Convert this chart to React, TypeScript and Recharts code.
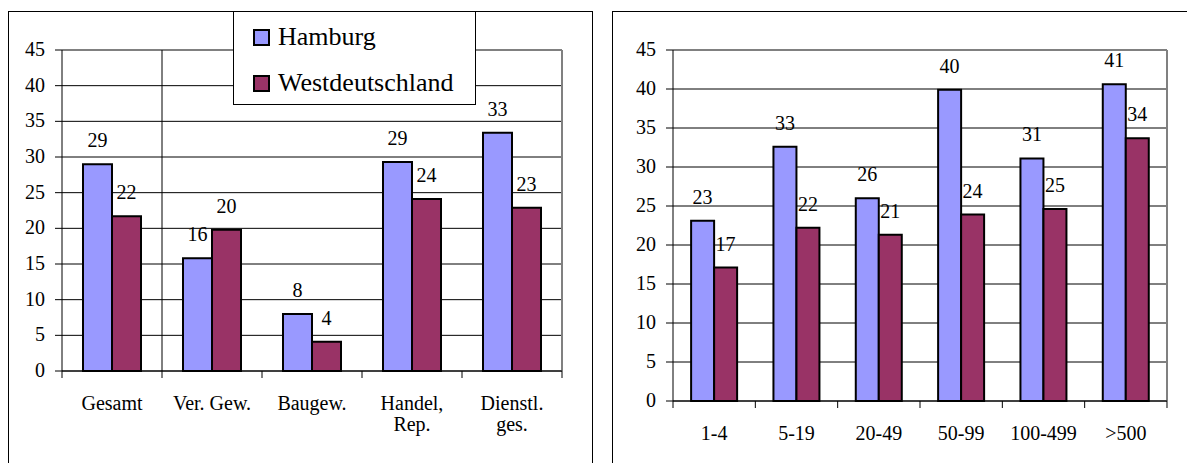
import {
  BarChart,
  Bar,
  XAxis,
  YAxis,
  CartesianGrid,
  Legend,
  LabelList,
  ReferenceLine,
} from "recharts";

const FONT = '"Liberation Serif", "Times New Roman", Times, serif';

// left chart: sectors
const sectorCats = ["Gesamt", "Ver. Gew.", "Baugew.", "Handel,\nRep.", "Dienstl.\nges."];
const sectorHamburg = [29.0, 15.8, 8.0, 29.3, 33.4];
const sectorWest = [21.7, 19.8, 4.1, 24.1, 22.9];

// right chart: firm size classes
const sizeCats = ["1-4", "5-19", "20-49", "50-99", "100-499", ">500"];
const sizeHamburg = [23.1, 32.6, 26.0, 39.9, 31.1, 40.6];
const sizeWest = [17.1, 22.2, 21.3, 23.9, 24.6, 33.7];

const yTicks = [0, 5, 10, 15, 20, 25, 30, 35, 40, 45];

const seriesNames = ["Hamburg", "Westdeutschland"];
const seriesColors = ["#9999FF", "#993366"];

const sectorData = sectorCats.map((c, i) => ({
  cat: c,
  hamburg: sectorHamburg[i],
  west: sectorWest[i],
}));

const sizeData = sizeCats.map((c, i) => ({
  cat: c,
  hamburg: sizeHamburg[i],
  west: sizeWest[i],
}));

const round = (v: any) => Math.round(Number(v));

function CatTick(props: any) {
  const { x, y, payload, index, visibleTicksCount, band } = props;
  const lines = String(payload.value).split("\n");
  const last = index === visibleTicksCount - 1;
  return (
    <g>
      <line x1={x - band / 2} x2={x - band / 2} y1={y} y2={y + 7} stroke="#000" />
      {last && <line x1={x + band / 2} x2={x + band / 2} y1={y} y2={y + 7} stroke="#000" />}
      <text x={x} y={y + 39} textAnchor="middle" fontSize={20} fontFamily={FONT} fill="#000">
        {lines.map((l, i) => (
          <tspan key={i} x={x} dy={i === 0 ? 0 : 21}>
            {l}
          </tspan>
        ))}
      </text>
    </g>
  );
}

function YTick(props: any) {
  const { x, y, payload } = props;
  return (
    <text x={x} y={y} dy={6} textAnchor="end" fontSize={20} fontFamily={FONT} fill="#000">
      {payload.value}
    </text>
  );
}

function LegendBox() {
  return (
    <div
      style={{
        position: "relative",
        width: 241,
        height: 92,
        background: "#fff",
        border: "1px solid #000",
        fontFamily: FONT,
        fontSize: 26,
        color: "#000",
      }}
    >
      {seriesNames.map((name, i) => (
        <div
          key={name}
          style={{
            position: "absolute",
            left: 19,
            top: 12 + i * 46,
            height: 26,
            display: "flex",
            alignItems: "center",
            whiteSpace: "nowrap",
          }}
        >
          <span
            style={{
              display: "inline-block",
              width: 13,
              height: 13,
              background: seriesColors[i],
              border: "2px solid #000",
              marginRight: 8,
            }}
          />
          <span>{name}</span>
        </div>
      ))}
    </div>
  );
}

function ValueLabel(props: any) {
  const { x, y, width, value } = props;
  return (
    <text x={x + width / 2} y={y - 17} textAnchor="middle" fontSize={20} fontFamily={FONT} fill="#000">
      {round(value)}
    </text>
  );
}

function Bars() {
  return [
    <Bar key="h" dataKey="hamburg" name={seriesNames[0]} fill={seriesColors[0]} stroke="#000" strokeWidth={2} isAnimationActive={false}>
      <LabelList dataKey="hamburg" content={<ValueLabel />} />
    </Bar>,
    <Bar key="w" dataKey="west" name={seriesNames[1]} fill={seriesColors[1]} stroke="#000" strokeWidth={2} isAnimationActive={false}>
      <LabelList dataKey="west" content={<ValueLabel />} />
    </Bar>,
  ];
}

export default function App() {
  return (
    <div
      style={{
        position: "absolute",
        left: 0,
        top: 0,
        width: 1187,
        height: 463,
        overflow: "hidden",
        background: "#fff",
        fontFamily: FONT,
      }}
    >
      <div style={{ position: "absolute", left: 8, top: 11, width: 583, height: 470, border: "1px solid #000" }} />
      <div style={{ position: "absolute", left: 612, top: 11, width: 600, height: 470, border: "1px solid #000" }} />

      <div style={{ position: "absolute", left: 0, top: 0 }}>
        <BarChart
          width={600}
          height={463}
          data={sectorData}
          margin={{ top: 50, right: 38, left: 12, bottom: 32 }}
          barCategoryGap="21%"
          barGap={0}
        >
          <CartesianGrid vertical={false} stroke="#000" />
          <XAxis
            dataKey="cat"
            interval={0}
            height={60}
            tickSize={0}
            tickMargin={0}
            axisLine={{ stroke: "#000" }}
            tick={<CatTick band={100} />}
          />
          <YAxis
            domain={[0, 45]}
            ticks={yTicks}
            width={50}
            tickSize={7}
            tickMargin={10}
            axisLine={{ stroke: "#000" }}
            tickLine={{ stroke: "#000" }}
            tick={<YTick />}
          />
          <ReferenceLine y={45} stroke="#808080" strokeWidth={2} />
          <ReferenceLine x={sectorCats[sectorCats.length - 1]} position="end" stroke="#808080" strokeWidth={2} />
          <ReferenceLine x={sectorCats[0]} position="end" stroke="#000" />
          {Bars()}
          <Legend
            layout="vertical"
            align="center"
            verticalAlign="middle"
            wrapperStyle={{ left: 233, top: 11, width: 243, height: 94 }}
            content={() => <LegendBox />}
          />
        </BarChart>
      </div>

      <div style={{ position: "absolute", left: 600, top: 0 }}>
        <BarChart
          width={587}
          height={463}
          data={sizeData}
          margin={{ top: 50, right: 20, left: 23, bottom: 22 }}
          barCategoryGap="22%"
          barGap={0}
        >
          <CartesianGrid vertical={false} stroke="#000" />
          <XAxis
            dataKey="cat"
            interval={0}
            height={40}
            tickSize={0}
            tickMargin={0}
            axisLine={{ stroke: "#000" }}
            tick={<CatTick band={82.33} />}
          />
          <YAxis
            domain={[0, 45]}
            ticks={yTicks}
            width={50}
            tickSize={7}
            tickMargin={10}
            axisLine={{ stroke: "#000" }}
            tickLine={{ stroke: "#000" }}
            tick={<YTick />}
          />
          <ReferenceLine y={45} stroke="#808080" strokeWidth={2} />
          <ReferenceLine x={sizeCats[sizeCats.length - 1]} position="end" stroke="#808080" strokeWidth={2} />
          {Bars()}
        </BarChart>
      </div>
    </div>
  );
}
